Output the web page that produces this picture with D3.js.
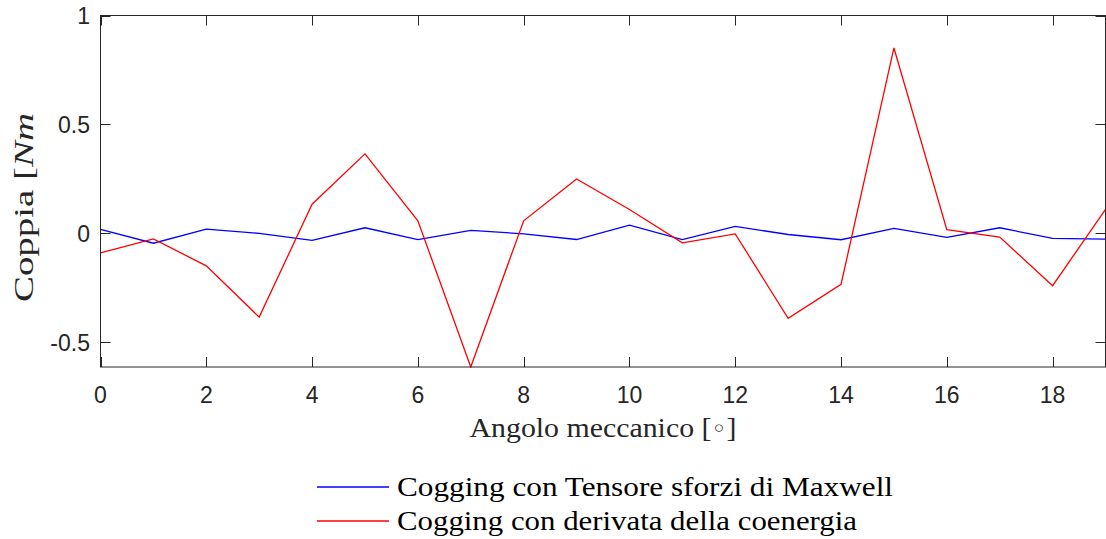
<!DOCTYPE html>
<html>
<head>
<meta charset="utf-8">
<script src="https://cdn.jsdelivr.net/npm/d3@7"></script>
<style>
  html, body { margin: 0; padding: 0; background: #fff; }
  svg { display: block; }
</style>
</head>
<body>
<svg id="chart" width="1106" height="539"></svg>
<script>
// Mechanical angle samples (degrees)
const angles = d3.range(0, 20);

// Cogging torque from the Maxwell stress tensor [Nm]
const maxwellTorque = [0.018, -0.045, 0.020, 0.000, -0.032, 0.026, -0.028, 0.014, -0.002, -0.028,
                       0.038, -0.028, 0.032, -0.005, -0.029, 0.023, -0.018, 0.026, -0.023, -0.026];

// Cogging torque from the co-energy derivative [Nm]
const coenergyTorque = [-0.089, -0.025, -0.149, -0.384, 0.134, 0.365, 0.058, -0.613, 0.058, 0.250,
                        0.110, -0.043, -0.002, -0.390, -0.234, 0.851, 0.017, -0.017, -0.240, 0.110];

const xTicks = [0, 2, 4, 6, 8, 10, 12, 14, 16, 18];
const yTicks = [-0.5, 0, 0.5, 1];
const yTickLabels = ["-0.5", "0", "0.5", "1"];

const seriesNames = ["Cogging con Tensore sforzi di Maxwell", "Cogging con derivata della coenergia"];
const seriesColors = ["#0000ff", "#ff0000"];

const svg = d3.select("#chart");
const axisColor = "#262626";
const plotLeft = 100.5, plotRight = 1105.5, plotTop = 15.5, plotBottom = 367;

const x = d3.scaleLinear().domain([0, 19]).range([plotLeft, plotRight]);
const y = d3.scaleLinear().domain([-0.613, 1]).range([plotBottom, plotTop]);

svg.append("defs").append("clipPath").attr("id", "plotClip")
  .append("rect").attr("x", plotLeft).attr("y", plotTop - 1)
  .attr("width", plotRight - plotLeft).attr("height", plotBottom - plotTop + 2);

// Series lines
const line = d3.line().x((d, i) => x(angles[i])).y(d => y(d));
[maxwellTorque, coenergyTorque].forEach((vals, k) => {
  svg.append("path")
    .datum(vals)
    .attr("clip-path", "url(#plotClip)")
    .attr("fill", "none")
    .attr("stroke", seriesColors[k])
    .attr("stroke-width", 1.3)
    .attr("stroke-linejoin", "miter")
    .attr("d", line);
});

// Axes box with inward ticks on all sides
const tickLen = 10;
const axes = svg.append("g").attr("stroke", axisColor).attr("stroke-width", 1).attr("fill", "none");
axes.append("rect").attr("x", plotLeft).attr("y", plotTop)
  .attr("width", plotRight - plotLeft).attr("height", plotBottom - plotTop);

xTicks.forEach(t => {
  const px = Math.round(x(t)) + 0.5;
  axes.append("line").attr("x1", px).attr("x2", px).attr("y1", plotBottom).attr("y2", plotBottom - tickLen);
  axes.append("line").attr("x1", px).attr("x2", px).attr("y1", plotTop).attr("y2", plotTop + tickLen);
});
yTicks.forEach(t => {
  const py = Math.round(y(t)) + 0.5;
  axes.append("line").attr("x1", plotLeft).attr("x2", plotLeft + tickLen).attr("y1", py).attr("y2", py);
  axes.append("line").attr("x1", plotRight).attr("x2", plotRight - tickLen).attr("y1", py).attr("y2", py);
});

// Tick labels
const tickFont = "'Liberation Sans', Arial, sans-serif";
svg.append("g").selectAll("text").data(xTicks).join("text")
  .attr("x", d => x(d)).attr("y", 402.5)
  .attr("text-anchor", "middle")
  .attr("font-family", tickFont).attr("font-size", 23)
  .attr("fill", axisColor)
  .text(d => d);

svg.append("g").selectAll("text").data(yTicks).join("text")
  .attr("x", 90).attr("y", d => y(d))
  .attr("dy", "0.36em")
  .attr("text-anchor", "end")
  .attr("font-family", tickFont).attr("font-size", 23)
  .attr("fill", axisColor)
  .text((d, i) => yTickLabels[i]);

// Axis titles
const serif = "'Liberation Serif', 'Times New Roman', serif";
const xTitle = svg.append("text")
  .attr("x", 603).attr("y", 437)
  .attr("text-anchor", "middle")
  .attr("font-family", serif).attr("font-size", 28)
  .attr("fill", axisColor)
  .attr("textLength", 267).attr("lengthAdjust", "spacingAndGlyphs");
xTitle.append("tspan").text("Angolo meccanico [");
xTitle.append("tspan").attr("font-family", "'DejaVu Sans', sans-serif").attr("font-size", 24).text("\u25E6");
xTitle.append("tspan").text("]");

const yTitle = svg.append("text")
  .attr("transform", "translate(33,207.5) rotate(-90)")
  .attr("text-anchor", "middle")
  .attr("font-family", serif).attr("font-size", 28)
  .attr("fill", axisColor)
  .attr("textLength", 189).attr("lengthAdjust", "spacingAndGlyphs");
yTitle.append("tspan").text("Coppia [");
yTitle.append("tspan").attr("font-style", "italic").text("Nm");

// Legend
const legendRows = [496, 530];
const legend = svg.append("g");
seriesNames.forEach((name, k) => {
  const baseY = legendRows[k];
  legend.append("line")
    .attr("x1", 317).attr("x2", 389)
    .attr("y1", baseY - 9).attr("y2", baseY - 9)
    .attr("stroke", seriesColors[k]).attr("stroke-width", 1.3);
  legend.append("text")
    .attr("x", 397).attr("y", baseY)
    .attr("font-family", serif).attr("font-size", 28)
    .attr("fill", "#000")
    .attr("textLength", k === 0 ? 496 : 460).attr("lengthAdjust", "spacingAndGlyphs")
    .text(name);
});
</script>
</body>
</html>
